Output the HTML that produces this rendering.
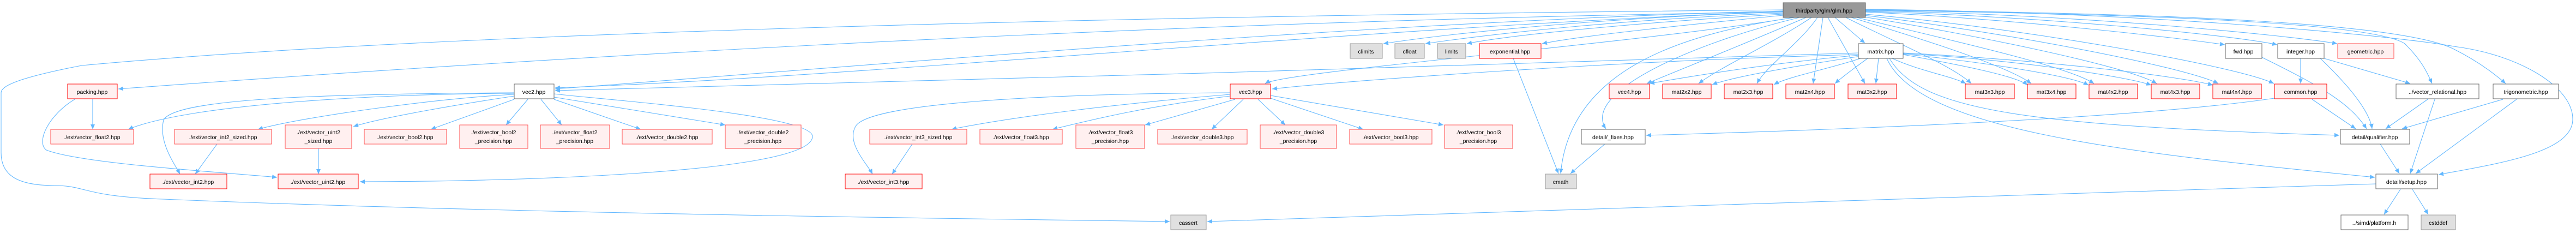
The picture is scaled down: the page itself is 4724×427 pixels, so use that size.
<!DOCTYPE html>
<html><head><meta charset="utf-8"><style>
html,body{margin:0;padding:0;background:#fff;width:4724px;height:427px;overflow:hidden}
svg{display:block}
text{font-family:"Liberation Sans",Arial,sans-serif;font-size:10.5px;fill:#000;text-anchor:middle}
.e{fill:none;stroke:#63b8ff;stroke-width:1.1}
.r{fill:#fff0f0;stroke:#ff0000;stroke-width:1}
.r2{fill:#fff0f0;stroke:#ff4d4d;stroke-width:1}
.g{fill:#e0e0e0;stroke:#999;stroke-width:1}
.w{fill:#fff;stroke:#666;stroke-width:1}
.root{fill:#999;stroke:#666;stroke-width:1}
</style></head><body>
<svg width="4724" height="427" viewBox="0 0 4724 427" xmlns="http://www.w3.org/2000/svg">
<defs><marker id="a" markerUnits="userSpaceOnUse" markerWidth="10" markerHeight="10" refX="9" refY="5" orient="auto"><path d="M0,1 L9,5 L0,9 Z" fill="#63b8ff"/></marker></defs>
<g class="e" marker-end="url(#a)">
<!-- glm edges -->
<path d="M3270,22 C3000,30 2700,55 2537,80"/>
<path d="M3270,24 C3000,34 2750,60 2614,80"/>
<path d="M3270,26 C3050,38 2780,62 2690,80"/>
<path d="M3270,28 C3100,45 2900,65 2828,80"/>
<path d="M3365,32 L3420,79"/>
<path d="M3312,32 C3200,80 3100,120 3020,153"/>
<path d="M3322,32 C3250,80 3160,120 3115,153"/>
<path d="M3333,32 C3300,80 3240,120 3222,153"/>
<path d="M3343,32 L3325,153"/>
<path d="M3352,32 L3420,153"/>
<path d="M3385,32 C3480,80 3580,120 3615,153"/>
<path d="M3395,32 C3520,70 3680,120 3725,153"/>
<path d="M3405,32 C3560,70 3790,120 3840,153"/>
<path d="M3412,30 C3600,60 3900,120 3955,153"/>
<path d="M3418,28 C3650,55 4000,120 4068,153"/>
<path d="M3420,26 C3700,50 4100,120 4170,153"/>
<path d="M3420,22 C3700,35 4000,70 4080,82"/>
<path d="M3420,21 C3750,30 4100,65 4176,82"/>
<path d="M3420,20 C3800,25 4200,65 4286,80"/>
<path d="M3420,19 C3900,25 4350,40 4410,80 C4440,110 4450,130 4460,153"/>
<path d="M3420,18 C3950,24 4400,40 4500,90 C4550,115 4580,140 4595,153"/>
<path d="M3420,17 C4000,24 4420,70 4500,85 C4620,100 4720,160 4718,220 C4716,280 4580,300 4472,320"/>
<path d="M3270,20 C2500,40 1600,120 1018,163"/>
<path d="M3270,21 C2500,50 1600,140 1018,161"/>
<path d="M3270,22 C2000,40 800,120 217,163"/>
<path d="M3290,32 C3000,80 2360,130 2320,153"/>
<path d="M3270,18 C2000,30 800,60 150,120 C20,145 2,160 2,170 L2,280 C2,320 30,340 100,340 C160,340 150,360 300,365 C900,390 1700,400 2145,406"/>
<path d="M3290,32 C3100,60 2880,120 2862,318"/>
<path d="M3300,32 C3100,80 2900,170 2945,236"/>
<!-- matrix edges -->
<path d="M3408,97 C2800,120 1600,150 1018,166"/>
<path d="M3408,100 C3000,110 2500,145 2333,163"/>
<path d="M3410,101 C3250,115 3100,140 3025,153"/>
<path d="M3412,103 C3300,120 3180,140 3140,155"/>
<path d="M3418,105 C3360,125 3280,140 3253,155"/>
<path d="M3425,107 C3400,125 3380,140 3365,153"/>
<path d="M3445,107 L3440,153"/>
<path d="M3470,107 C3520,130 3580,140 3605,153"/>
<path d="M3490,100 C3600,120 3700,140 3718,156"/>
<path d="M3490,99 C3650,115 3800,140 3830,156"/>
<path d="M3490,98 C3700,110 3900,140 3945,156"/>
<path d="M3490,97 C3750,110 4000,140 4058,156"/>
<path d="M3465,107 C3520,200 3700,230 4290,248"/>
<path d="M3460,107 C3520,240 3900,280 4355,325"/>
<path d="M4171,180 C3900,220 3300,240 3019,248"/>
<!-- vec2 -->
<path d="M943,171 C700,172 350,190 235,237"/>
<path d="M943,173 C800,180 550,215 473,237"/>
<path d="M943,176 C850,190 700,215 648,232"/>
<path d="M943,182 L790,237"/>
<path d="M968,182 L928,229"/>
<path d="M992,182 L1030,229"/>
<path d="M1016,182 L1175,237"/>
<path d="M1016,178 L1330,229"/>
<path d="M943,170 C600,172 320,180 300,220 C290,260 320,300 330,319"/>
<path d="M1016,172 C1100,182 1490,210 1490,250 C1490,320 900,333 660,333"/>
<path d="M170,182 L170,237"/>
<path d="M137,182 C90,210 65,260 85,275 C150,300 400,315 508,325"/>
<path d="M398,264 L358,319"/>
<path d="M584,272 L584,319"/>
<!-- vec3 -->
<path d="M2256,170 C1900,172 1600,190 1570,230 C1550,260 1590,300 1600,319"/>
<path d="M2256,173 C2050,190 1850,215 1745,237"/>
<path d="M2256,176 C2100,195 2000,220 1930,237"/>
<path d="M2265,182 L2100,229"/>
<path d="M2280,182 L2222,237"/>
<path d="M2307,182 L2357,229"/>
<path d="M2330,180 L2500,237"/>
<path d="M2330,175 L2647,229"/>
<path d="M1673,264 L1636,319"/>
<path d="M2775,107 L2858,318"/>
<path d="M2943,264 L2880,318"/>
<!-- right cluster -->
<path d="M4148,105 C4260,160 4310,190 4340,236"/>
<path d="M4219,107 L4219,153"/>
<path d="M4255,107 C4300,150 4345,200 4350,236"/>
<path d="M4262,107 L4420,153"/>
<path d="M4240,182 L4320,236"/>
<path d="M4452,182 L4375,236"/>
<path d="M4465,182 L4420,318"/>
<path d="M4590,182 L4405,236"/>
<path d="M4615,182 L4430,318"/>
<path d="M4365,264 L4400,318"/>
<path d="M4402,347 L4372,393"/>
<path d="M4424,347 L4453,393"/>
<path d="M4357,337 C3600,360 2600,395 2214,406"/>
</g>
<!-- nodes -->
<rect class="root" x="3270" y="5" width="151" height="27"/><text x="3345" y="23">thirdparty/glm/glm.hpp</text>
<rect class="g" x="2476" y="80" width="59" height="27"/><text x="2505" y="98">climits</text>
<rect class="g" x="2558" y="80" width="54" height="27"/><text x="2585" y="98">cfloat</text>
<rect class="g" x="2636" y="80" width="52" height="27"/><text x="2662" y="98">limits</text>
<rect class="r" x="2713" y="80" width="113" height="27"/><text x="2769" y="98">exponential.hpp</text>
<rect class="w" x="3408" y="80" width="82" height="27"/><text x="3449" y="98">matrix.hpp</text>
<rect class="w" x="4081" y="80" width="67" height="27"/><text x="4114" y="98">fwd.hpp</text>
<rect class="w" x="4177" y="80" width="85" height="27"/><text x="4219" y="98">integer.hpp</text>
<rect class="r2" x="4287" y="80" width="103" height="27"/><text x="4338" y="98">geometric.hpp</text>
<rect class="r" x="124" y="154" width="91" height="27"/><text x="169" y="172">packing.hpp</text>
<rect class="w" x="943" y="154" width="73" height="27"/><text x="979" y="172">vec2.hpp</text>
<rect class="r" x="2256" y="154" width="74" height="27"/><text x="2293" y="172">vec3.hpp</text>
<rect class="r" x="2951" y="154" width="74" height="27"/><text x="2988" y="172">vec4.hpp</text>
<rect class="r" x="3049" y="154" width="89" height="27"/><text x="3093" y="172">mat2x2.hpp</text>
<rect class="r" x="3162" y="154" width="89" height="27"/><text x="3206" y="172">mat2x3.hpp</text>
<rect class="r" x="3275" y="154" width="89" height="27"/><text x="3319" y="172">mat2x4.hpp</text>
<rect class="r" x="3389" y="154" width="89" height="27"/><text x="3433" y="172">mat3x2.hpp</text>
<rect class="r" x="3604" y="154" width="90" height="27"/><text x="3649" y="172">mat3x3.hpp</text>
<rect class="r" x="3718" y="154" width="89" height="27"/><text x="3762" y="172">mat3x4.hpp</text>
<rect class="r" x="3831" y="154" width="89" height="27"/><text x="3875" y="172">mat4x2.hpp</text>
<rect class="r" x="3945" y="154" width="89" height="27"/><text x="3989" y="172">mat4x3.hpp</text>
<rect class="r" x="4058" y="154" width="89" height="27"/><text x="4102" y="172">mat4x4.hpp</text>
<rect class="r" x="4171" y="154" width="96" height="27"/><text x="4219" y="172">common.hpp</text>
<rect class="w" x="4394" y="154" width="152" height="27"/><text x="4470" y="172">../vector_relational.hpp</text>
<rect class="w" x="4572" y="154" width="120" height="27"/><text x="4632" y="172">trigonometric.hpp</text>
<rect class="r2" x="93" y="237" width="152" height="27"/><text x="169" y="255">./ext/vector_float2.hpp</text>
<rect class="r2" x="320" y="237" width="178" height="27"/><text x="409" y="255">./ext/vector_int2_sized.hpp</text>
<rect class="r2" x="523" y="229" width="122" height="43"/><text x="584" y="246">./ext/vector_uint2</text><text x="584" y="262">_sized.hpp</text>
<rect class="r2" x="668" y="237" width="151" height="27"/><text x="743" y="255">./ext/vector_bool2.hpp</text>
<rect class="r2" x="843" y="229" width="125" height="43"/><text x="905" y="246">./ext/vector_bool2</text><text x="905" y="262">_precision.hpp</text>
<rect class="r2" x="991" y="229" width="127" height="43"/><text x="1054" y="246">./ext/vector_float2</text><text x="1054" y="262">_precision.hpp</text>
<rect class="r2" x="1141" y="237" width="165" height="27"/><text x="1223" y="255">./ext/vector_double2.hpp</text>
<rect class="r2" x="1330" y="229" width="139" height="43"/><text x="1399" y="246">./ext/vector_double2</text><text x="1399" y="262">_precision.hpp</text>
<rect class="r2" x="1595" y="237" width="178" height="27"/><text x="1684" y="255">./ext/vector_int3_sized.hpp</text>
<rect class="r2" x="1797" y="237" width="151" height="27"/><text x="1872" y="255">./ext/vector_float3.hpp</text>
<rect class="r2" x="1973" y="229" width="126" height="43"/><text x="2036" y="246">./ext/vector_float3</text><text x="2036" y="262">_precision.hpp</text>
<rect class="r2" x="2123" y="237" width="164" height="27"/><text x="2205" y="255">./ext/vector_double3.hpp</text>
<rect class="r2" x="2311" y="229" width="140" height="43"/><text x="2381" y="246">./ext/vector_double3</text><text x="2381" y="262">_precision.hpp</text>
<rect class="r2" x="2475" y="237" width="151" height="27"/><text x="2550" y="255">./ext/vector_bool3.hpp</text>
<rect class="r2" x="2649" y="229" width="125" height="43"/><text x="2711" y="246">./ext/vector_bool3</text><text x="2711" y="262">_precision.hpp</text>
<rect class="w" x="2900" y="237" width="117" height="27"/><text x="2958" y="255">detail/_fixes.hpp</text>
<rect class="w" x="4292" y="237" width="127" height="27"/><text x="4355" y="255">detail/qualifier.hpp</text>
<rect class="r" x="275" y="319" width="141" height="27"/><text x="345" y="337">./ext/vector_int2.hpp</text>
<rect class="r" x="510" y="319" width="147" height="27"/><text x="583" y="337">./ext/vector_uint2.hpp</text>
<rect class="r" x="1550" y="319" width="141" height="27"/><text x="1620" y="337">./ext/vector_int3.hpp</text>
<rect class="g" x="2834" y="319" width="57" height="27"/><text x="2862" y="337">cmath</text>
<rect class="w" x="4357" y="319" width="113" height="27"/><text x="4413" y="337">detail/setup.hpp</text>
<rect class="g" x="2147" y="394" width="65" height="27"/><text x="2179" y="412">cassert</text>
<rect class="w" x="4293" y="394" width="123" height="27"/><text x="4354" y="412">../simd/platform.h</text>
<rect class="g" x="4440" y="394" width="63" height="27"/><text x="4471" y="412">cstddef</text>
</svg>
</body></html>
